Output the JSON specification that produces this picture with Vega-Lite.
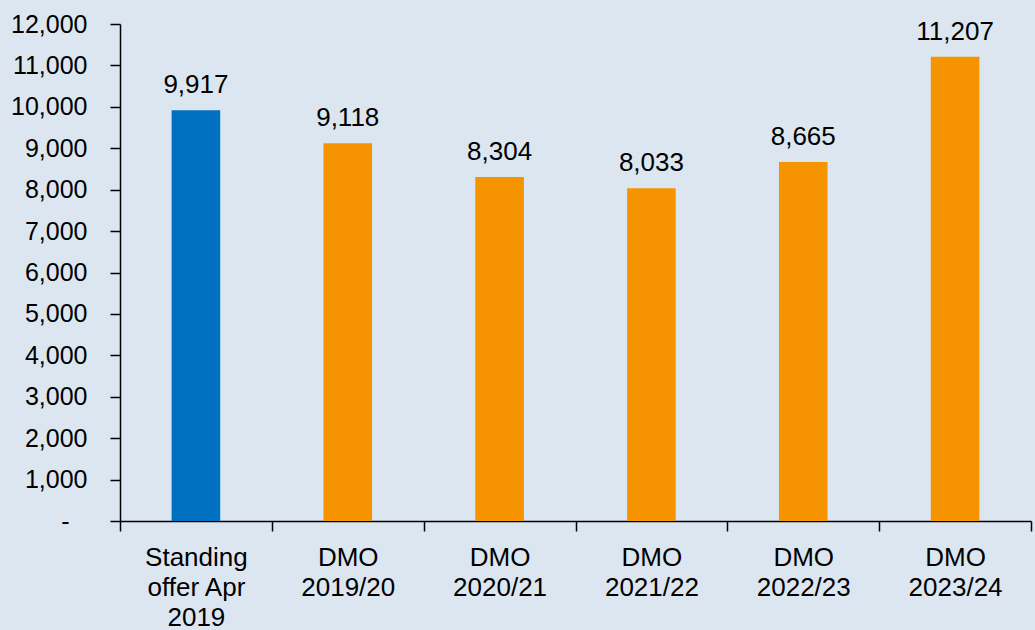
{
  "$schema": "https://vega.github.io/schema/vega-lite/v6.json",
  "width": 911,
  "height": 497,
  "autosize": {"type": "none"},
  "padding": {"left": 120, "top": 24, "right": 4, "bottom": 109},
  "background": "#dce6f0",
  "config": {
    "view": {"stroke": null},
    "font": "Liberation Sans",
    "axis": {"labelFont": "Liberation Sans", "labelColor": "#000000", "domainColor": "#000000", "tickColor": "#000000", "domainWidth": 1.5, "tickWidth": 1.5}
  },
  "data": {
    "values": [
      {"category": "Standing offer Apr 2019", "value": 9917, "type": "standing"},
      {"category": "DMO 2019/20", "value": 9118, "type": "dmo"},
      {"category": "DMO 2020/21", "value": 8304, "type": "dmo"},
      {"category": "DMO 2021/22", "value": 8033, "type": "dmo"},
      {"category": "DMO 2022/23", "value": 8665, "type": "dmo"},
      {"category": "DMO 2023/24", "value": 11207, "type": "dmo"}
    ]
  },
  "encoding": {
    "x": {
      "field": "category",
      "type": "nominal",
      "sort": null,
      "scale": {"padding": 0},
      "axis": {
        "title": null,
        "labelAngle": 0,
        "tickBand": "extent",
        "tickSize": 10,
        "labelFontSize": 26,
        "labelPadding": 13,
        "labelLineHeight": 30,
        "labelBaseline": "top",
        "labelExpr": "!isString(datum.value) ? '' : datum.value == 'Standing offer Apr 2019' ? ['Standing', 'offer Apr', '2019'] : split(datum.value, ' ')"
      }
    },
    "y": {
      "field": "value",
      "type": "quantitative",
      "scale": {"domain": [0, 12000], "nice": false},
      "axis": {
        "title": null,
        "values": [0, 1000, 2000, 3000, 4000, 5000, 6000, 7000, 8000, 9000, 10000, 11000, 12000],
        "grid": false,
        "tickSize": 10,
        "labelFontSize": 25,
        "labelPadding": 23,
        "labelExpr": "datum.value == 0 ? '-\u2800' : format(datum.value, ',')"
      }
    }
  },
  "layer": [
    {
      "mark": {"type": "bar", "width": {"band": 0.32}},
      "encoding": {
        "color": {
          "field": "type",
          "type": "nominal",
          "scale": {"domain": ["standing", "dmo"], "range": ["#0070c0", "#f59300"]},
          "legend": null
        }
      }
    },
    {
      "mark": {"type": "text", "fontSize": 26, "baseline": "alphabetic", "dy": -17, "color": "#000000"},
      "encoding": {
        "text": {"field": "value", "type": "quantitative", "format": ","}
      }
    }
  ]
}
